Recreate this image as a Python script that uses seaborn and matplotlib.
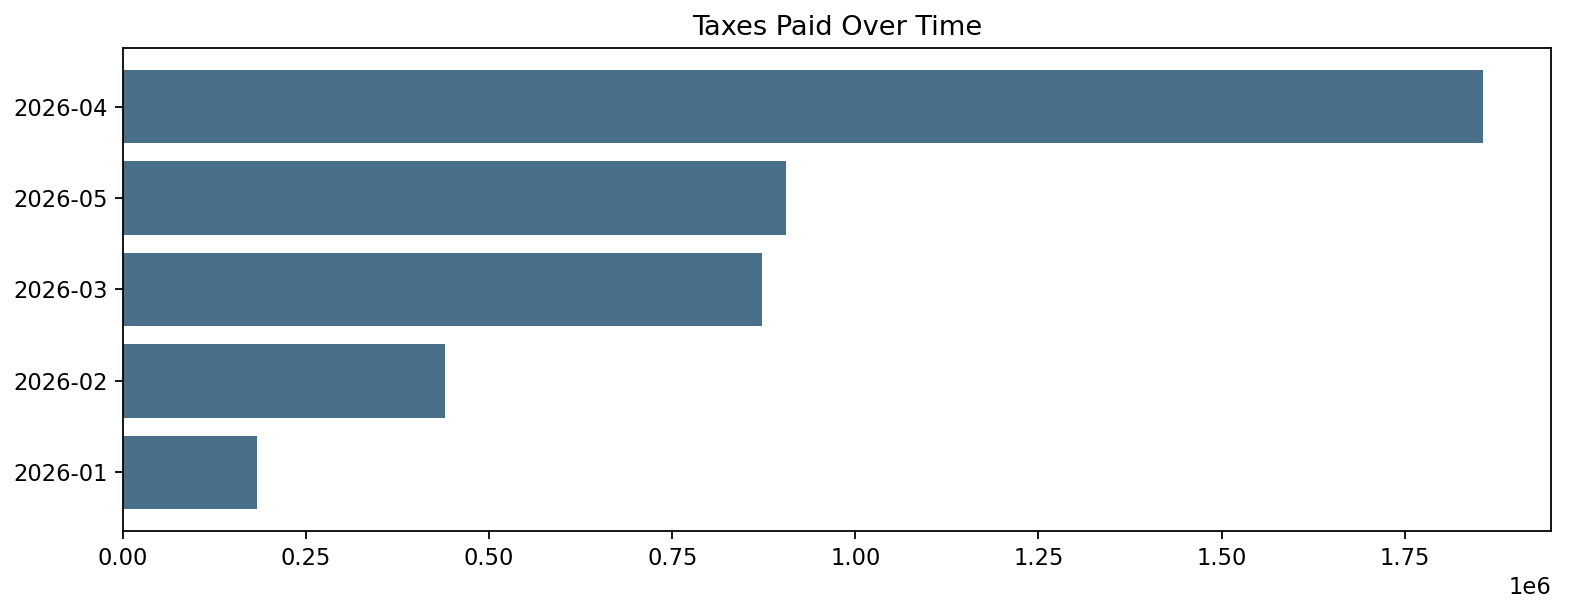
import matplotlib
matplotlib.use("Agg")
import matplotlib.pyplot as plt
import seaborn as sns
import pandas as pd

months = ["2026-01", "2026-02", "2026-03", "2026-05", "2026-04"]
taxes = [183000, 440000, 873000, 905000, 1857000]

df = pd.DataFrame({"month": months, "taxes": taxes})

plt.rcParams["font.size"] = 10.2
W, H = 1585, 616
fig, ax = plt.subplots(figsize=(W / 160, H / 160), dpi=160)
sns.barplot(data=df, y="month", x="taxes", order=months[::-1], color="#4a6f8b",
            saturation=1, width=0.8, ax=ax, orient="h")
ax.set_title("Taxes Paid Over Time")
ax.set_xlabel("")
ax.set_ylabel("")
ax.set_xlim(0, max(taxes) * 1.05)
n = len(months)
ax.set_ylim(n - 1 + 0.4 + 0.24, -0.4 - 0.24)
ax.ticklabel_format(axis="x", style="sci", scilimits=(6, 6))
fig.subplots_adjust(left=123 / W, right=1551 / W, top=1 - 48 / H, bottom=1 - 531 / H)
fig.savefig("out.png", dpi=160)
